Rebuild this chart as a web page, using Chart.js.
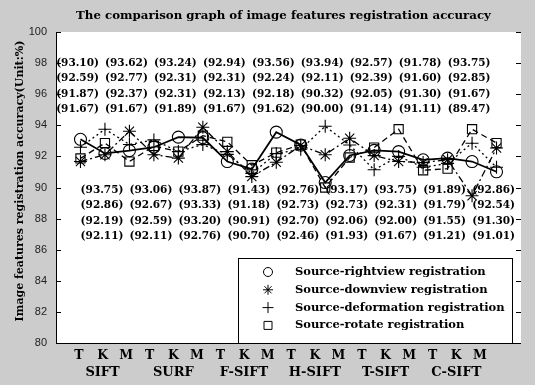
<!DOCTYPE html>
<html>
<head>
<meta charset="utf-8">
<script src="https://cdn.jsdelivr.net/npm/chart.js@4.4.1/dist/chart.umd.min.js"></script>
<style>
  html, body { margin: 0; padding: 0; background: #cccccc; }
  #wrap { width: 535px; height: 385px; }
</style>
</head>
<body>
<div id="wrap"><canvas id="c" width="535" height="385"></canvas></div>
<script>
// Feature extraction methods and their three variants
const methods = ['SIFT', 'SURF', 'F-SIFT', 'H-SIFT', 'T-SIFT', 'C-SIFT'];
const variants = ['T', 'K', 'M'];

// Registration accuracy (%) per method/variant, one array per registration source
const rightview   = [93.10, 92.19, 92.37, 92.59, 93.24, 93.20, 91.67, 91.18, 93.56, 92.73, 90.32, 92.06, 92.39, 92.31, 91.78, 91.89, 91.67, 91.01];
const downview    = [91.67, 92.11, 93.62, 92.11, 91.89, 93.87, 92.31, 90.70, 91.62, 92.70, 92.11, 93.17, 92.05, 91.67, 91.60, 91.79, 89.47, 92.54];
const deformation = [92.59, 93.75, 92.77, 93.06, 92.31, 92.76, 92.13, 90.91, 92.18, 92.46, 93.94, 92.73, 91.14, 92.00, 91.30, 91.55, 92.85, 91.30];
const rotate      = [91.87, 92.86, 91.67, 92.67, 92.31, 93.33, 92.94, 91.43, 92.24, 92.76, 90.00, 91.93, 92.57, 93.75, 91.11, 91.21, 93.75, 92.86];

const yTicks = [80, 82, 84, 86, 88, 90, 92, 94, 96, 98, 100];

const titleText = 'The comparison graph of image features registration accuracy';
const yTitleText = 'Image features registration accuracy(Unit:%)';

const categories = [];
methods.forEach(m => variants.forEach(v => categories.push(v)));

const SERIF = '"DejaVu Serif", "Liberation Serif", serif';

function series(label, values, style, radius, dash, width) {
  return {
    label,
    data: values.map((v, i) => ({ x: i + 1, y: v })),
    borderColor: '#000',
    borderWidth: width,
    borderDash: dash,
    pointStyle: style,
    pointRadius: radius,
    pointHoverRadius: radius,
    pointBorderColor: '#000',
    pointBackgroundColor: 'rgba(0,0,0,0)',
    pointBorderWidth: 1.1,
    tension: 0,
    fill: false
  };
}

const datasets = [
  series('Source-rightview registration', rightview, 'circle', 6, [], 1.8),
  series('Source-downview registration', downview, 'star', 6.5, [7, 3, 2, 3], 1.3),
  series('Source-deformation registration', deformation, 'cross', 6.5, [2, 3], 1.3),
  series('Source-rotate registration', rotate, 'rect', 6.5, [6, 4], 1.3)
];

// Marker shapes for the legend box
function marker(ctx, style, x, y, r) {
  ctx.beginPath();
  if (style === 'circle') {
    ctx.arc(x, y, r, 0, Math.PI * 2);
  } else if (style === 'rect') {
    ctx.rect(x - r, y - r, 2 * r, 2 * r);
  } else if (style === 'cross') {
    ctx.moveTo(x - r, y); ctx.lineTo(x + r, y);
    ctx.moveTo(x, y - r); ctx.lineTo(x, y + r);
  } else if (style === 'star') {
    const d = r * Math.SQRT1_2;
    ctx.moveTo(x - r, y); ctx.lineTo(x + r, y);
    ctx.moveTo(x, y - r); ctx.lineTo(x, y + r);
    ctx.moveTo(x - d, y - d); ctx.lineTo(x + d, y + d);
    ctx.moveTo(x - d, y + d); ctx.lineTo(x + d, y - d);
  }
  ctx.stroke();
}

const decor = {
  id: 'decor',
  beforeDraw(chart) {
    const { ctx, chartArea: a } = chart;
    ctx.save();
    ctx.fillStyle = '#ffffff';
    ctx.fillRect(a.left, a.top, a.right - a.left, a.bottom - a.top);
    ctx.restore();
  },
  afterDatasetsDraw(chart) {
    const { ctx, chartArea: a, scales: { x, y } } = chart;
    ctx.save();

    // Axis lines and inward tick marks
    ctx.strokeStyle = '#000';
    ctx.lineWidth = 1;
    ctx.beginPath();
    ctx.moveTo(a.left + 0.5, a.top);
    ctx.lineTo(a.left + 0.5, a.bottom + 0.5);
    ctx.lineTo(a.right, a.bottom + 0.5);
    yTicks.forEach(v => {
      const py = Math.round(y.getPixelForValue(v)) + 0.5;
      ctx.moveTo(a.left, py); ctx.lineTo(a.left + 5, py);
      ctx.moveTo(a.right, py); ctx.lineTo(a.right - 5, py);
    });
    ctx.stroke();

    // Value annotations: odd positions above the curves, even positions below,
    // each column listing the four values at that position in descending order
    const upperRows = [98, 97, 96, 95];
    const lowerRows = [89.85, 88.85, 87.85, 86.85];
    ctx.fillStyle = '#000';
    ctx.font = 'bold 10.5px ' + SERIF;
    ctx.textAlign = 'center';
    ctx.textBaseline = 'middle';
    for (let i = 0; i < categories.length; i++) {
      const vals = [rightview[i], downview[i], deformation[i], rotate[i]].sort((p, q) => q - p);
      const rows = (i % 2 === 0) ? upperRows : lowerRows;
      const cx = x.getPixelForValue(i + 1 - 0.12);
      vals.forEach((v, k) => {
        ctx.fillText('(' + v.toFixed(2) + ')', cx, y.getPixelForValue(rows[k]));
      });
    }
    ctx.restore();
  },
  afterDraw(chart) {
    const { ctx, chartArea: a, scales: { x } } = chart;
    ctx.save();
    ctx.fillStyle = '#000';

    // Title
    ctx.font = 'bold 11.8px ' + SERIF;
    ctx.textAlign = 'center';
    ctx.textBaseline = 'middle';
    ctx.fillText(titleText, (a.left + a.right) / 2 - 5, 16);

    // Y axis title
    ctx.save();
    ctx.translate(20, 181);
    ctx.rotate(-Math.PI / 2);
    ctx.font = 'bold 11px ' + SERIF;
    ctx.fillText(yTitleText, 0, 0);
    ctx.restore();

    // Variant labels and method names under the axis
    const labelX = i => x.getPixelForValue(0.94 + i * 0.9635);
    ctx.font = 'bold 12.5px ' + SERIF;
    categories.forEach((c, i) => ctx.fillText(c, labelX(i), a.bottom + 13));
    ctx.font = 'bold 13px ' + SERIF;
    methods.forEach((m, j) => ctx.fillText(m, labelX(j * 3 + 1), a.bottom + 30));

    // Legend box in the lower right of the plot
    const lx = a.left + 182, lw = a.right - 9 - lx;
    const ly = a.bottom - 85, lh = 85;
    ctx.fillStyle = '#fff';
    ctx.fillRect(lx, ly, lw, lh);
    ctx.strokeStyle = '#000';
    ctx.lineWidth = 1;
    ctx.strokeRect(lx + 0.5, ly + 0.5, lw, lh);
    const sizes = { circle: 4.5, star: 5, cross: 5.5, rect: 4 };
    chart.data.datasets.forEach((ds, k) => {
      const ry = ly + 14 + k * 17.8;
      ctx.lineWidth = 1;
      marker(ctx, ds.pointStyle, lx + 30, ry, sizes[ds.pointStyle]);
      ctx.fillStyle = '#000';
      ctx.font = 'bold 11.5px ' + SERIF;
      ctx.textAlign = 'left';
      ctx.textBaseline = 'middle';
      ctx.fillText(ds.label, lx + 57, ry);
    });
    ctx.restore();
  }
};

new Chart(document.getElementById('c'), {
  type: 'line',
  data: { datasets },
  options: {
    responsive: false,
    animation: false,
    events: [],
    layout: { padding: { left: 0, top: 32, right: 14, bottom: 42 } },
    plugins: { legend: { display: false }, tooltip: { enabled: false }, title: { display: false } },
    scales: {
      x: { type: 'linear', min: 0, max: 19, display: false },
      y: {
        type: 'linear', min: 80, max: 100,
        afterBuildTicks: s => { s.ticks = yTicks.map(v => ({ value: v })); },
        afterFit: s => { s.width = 56; },
        ticks: { font: { family: '"Liberation Sans", Arial, sans-serif', size: 11 }, color: '#222', padding: 9 },
        grid: { drawOnChartArea: false, drawTicks: false },
        border: { display: false }
      }
    }
  },
  plugins: [decor]
});
</script>
</body>
</html>
